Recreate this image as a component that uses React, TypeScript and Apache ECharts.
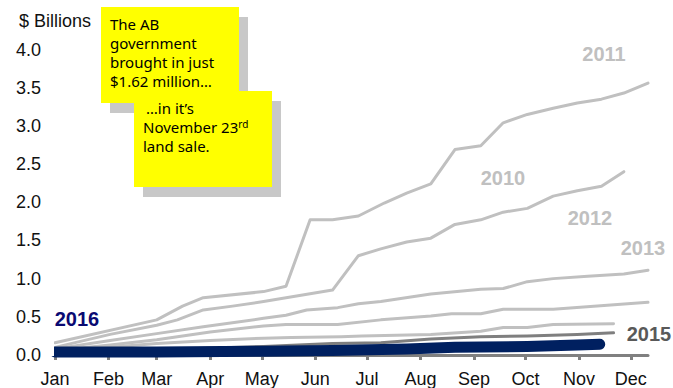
import React, { useEffect, useRef } from "react";
import * as echarts from "echarts";

const months = ["Jan", "Feb", "Mar", "Apr", "May", "Jun", "Jul", "Aug", "Sep", "Oct", "Nov", "Dec"];
const monthStarts = [0, 31, 59, 90, 120, 151, 181, 212, 243, 273, 304, 334];
const yTicks = [0, 0.5, 1, 1.5, 2, 2.5, 3, 3.5, 4];

// [day of year, $ billions cumulative]
const s2010: [number, number][] = [
  [0, 0.1], [32, 0.27], [59, 0.39], [71, 0.46], [86, 0.59], [103, 0.64], [121, 0.7], [161, 0.85],
  [176, 1.3], [189, 1.39], [204, 1.48], [218, 1.53], [232, 1.71], [247, 1.77], [260, 1.87],
  [274, 1.92], [289, 2.08], [303, 2.15], [317, 2.21], [330, 2.4],
];
const s2011: [number, number][] = [
  [0, 0.16], [59, 0.46], [74, 0.64], [86, 0.75], [121, 0.83], [134, 0.9], [148, 1.77], [161, 1.77],
  [176, 1.82], [191, 1.99], [204, 2.12], [218, 2.24], [232, 2.69], [247, 2.74], [260, 3.04],
  [274, 3.15], [289, 3.23], [303, 3.3], [317, 3.35], [330, 3.43], [344, 3.56],
];
const s2012: [number, number][] = [
  [0, 0.08], [32, 0.19], [59, 0.28], [86, 0.37], [121, 0.48], [134, 0.52], [146, 0.59], [164, 0.62],
  [176, 0.67], [189, 0.7], [218, 0.8], [247, 0.86], [260, 0.87], [274, 0.96], [289, 1.0],
  [309, 1.03], [330, 1.06], [344, 1.11],
];
const s2013: [number, number][] = [
  [0, 0.06], [32, 0.13], [59, 0.2], [90, 0.3], [121, 0.38], [134, 0.4], [164, 0.4], [189, 0.46],
  [218, 0.51], [230, 0.54], [247, 0.54], [260, 0.6], [289, 0.6], [344, 0.69],
];
const s2014: [number, number][] = [
  [0, 0.05], [32, 0.1], [59, 0.15], [90, 0.19], [121, 0.22], [137, 0.23], [166, 0.24], [178, 0.25],
  [218, 0.27], [247, 0.31], [260, 0.36], [274, 0.36], [289, 0.4], [324, 0.41],
];
const s2015: [number, number][] = [
  [0, 0.04], [59, 0.07], [121, 0.11], [161, 0.15], [189, 0.16], [218, 0.21], [247, 0.24],
  [274, 0.25], [303, 0.27], [324, 0.29],
];
const s2016: [number, number][] = [
  [0, 0.04], [59, 0.04], [121, 0.05], [161, 0.06], [204, 0.08], [232, 0.1], [274, 0.11],
  [303, 0.13], [316, 0.14],
];

const seriesList = [
  { name: "2010", data: s2010, color: "#C0C0C0", width: 3 },
  { name: "2011", data: s2011, color: "#C0C0C0", width: 3 },
  { name: "2012", data: s2012, color: "#C0C0C0", width: 3 },
  { name: "2013", data: s2013, color: "#C0C0C0", width: 3 },
  { name: "2014", data: s2014, color: "#C0C0C0", width: 3 },
  { name: "2015", data: s2015, color: "#7F7F7F", width: 3 },
  { name: "2016", data: s2016, color: "#002060", width: 11 },
];

const AX_FONT = 'Arial, "Liberation Sans", sans-serif';
const NOTE_FONT = '"Comic Sans MS", "Noto Sans", sans-serif';

export default function App() {
  const ref = useRef<HTMLDivElement>(null);
  useEffect(() => {
    if (!ref.current) return;
    const chart = echarts.init(ref.current, undefined, { renderer: "svg" });
    const seriesLabel = (text: string, x: number, y: number, color: string) => ({
      type: "text",
      x,
      y,
      z: 50,
      style: {
        text,
        fontSize: 20,
        fontWeight: "bold",
        fontFamily: AX_FONT,
        fill: color,
        align: "center",
        verticalAlign: "middle",
      },
    });
    const noteLine = (text: string, x: number, y: number, rich?: any) => ({
      type: "text",
      x,
      y,
      z: 101,
      style: {
        text,
        fontSize: 15,
        fontFamily: NOTE_FONT,
        fill: "#000",
        align: "left",
        verticalAlign: "middle",
        rich,
      },
    });
    const option: any = {
      animation: false,
      grid: { left: 55, right: 25, top: 49.5, bottom: 31.3 },
      xAxis: {
        type: "value",
        min: 0,
        max: 344,
        axisLine: { show: true, lineStyle: { color: "#808080", width: 3 } },
        axisTick: {
          show: true,
          customValues: monthStarts,
          length: 5,
          lineStyle: { color: "#808080", width: 3 },
        },
        axisLabel: {
          customValues: monthStarts,
          formatter: (v: number) => months[monthStarts.indexOf(Math.round(v))] ?? "",
          fontSize: 18,
          color: "#111",
          fontFamily: AX_FONT,
          margin: 15,
        },
        splitLine: { show: false },
      },
      yAxis: {
        type: "value",
        min: yTicks[0],
        max: yTicks[yTicks.length - 1],
        interval: 0.5,
        axisLine: { show: false },
        axisTick: { show: false },
        splitLine: { show: false },
        axisLabel: {
          formatter: (v: number) => v.toFixed(1),
          fontSize: 18,
          color: "#111",
          fontFamily: AX_FONT,
          margin: 14,
        },
      },
      series: seriesList.map((s) => ({
        name: s.name,
        type: "line",
        data: s.data,
        symbol: "none",
        showSymbol: false,
        clip: true,
        lineStyle: { color: s.color, width: s.width, cap: "round", join: "round" },
      })),
      graphic: {
        elements: [
          // mask so the series start flat at the plot's left edge
          { type: "rect", z: 40, shape: { x: 43, y: 335, width: 11, height: 21 }, style: { fill: "#fff" } },
          {
            type: "text",
            x: 19,
            y: 21,
            style: {
              text: "$ Billions",
              fontSize: 18,
              fontFamily: AX_FONT,
              fill: "#111",
              align: "left",
              verticalAlign: "middle",
            },
          },
          seriesLabel("2011", 604, 54, "#C0C0C0"),
          seriesLabel("2010", 503, 178, "#C0C0C0"),
          seriesLabel("2012", 590, 218, "#C0C0C0"),
          seriesLabel("2013", 643, 248, "#C0C0C0"),
          seriesLabel("2015", 649, 334, "#595959"),
          seriesLabel("2016", 77, 319, "#0A0A72"),
          { type: "rect", z: 100, shape: { x: 110, y: 17, width: 138, height: 96 }, style: { fill: "#C8C8C8" } },
          { type: "rect", z: 100, shape: { x: 101, y: 7, width: 138, height: 96 }, style: { fill: "#FFFF00" } },
          noteLine("The AB", 110, 24),
          noteLine("government", 110, 43),
          noteLine("brought in just", 110, 62),
          noteLine("$1.62 million…", 110, 81),
          { type: "rect", z: 102, shape: { x: 143, y: 101, width: 138, height: 96 }, style: { fill: "#C8C8C8" } },
          { type: "rect", z: 102, shape: { x: 134, y: 91, width: 138, height: 96 }, style: { fill: "#FFFF00" } },
          { ...noteLine("…in it’s", 146, 108), z: 103 },
          {
            ...noteLine("November 23{sup|rd}", 143, 127, {
              sup: { fontSize: 10, fontFamily: NOTE_FONT, fill: "#000", verticalAlign: "top", padding: [0, 0, 6, 0] },
            }),
            z: 103,
          },
          { ...noteLine("land sale.", 143, 146), z: 103 },
        ],
      },
    };
    chart.setOption(option);
    return () => chart.dispose();
  }, []);
  return (
    <div
      ref={ref}
      style={{ position: "absolute", left: 0, top: 0, width: 673, height: 388, background: "#fff" }}
    />
  );
}
